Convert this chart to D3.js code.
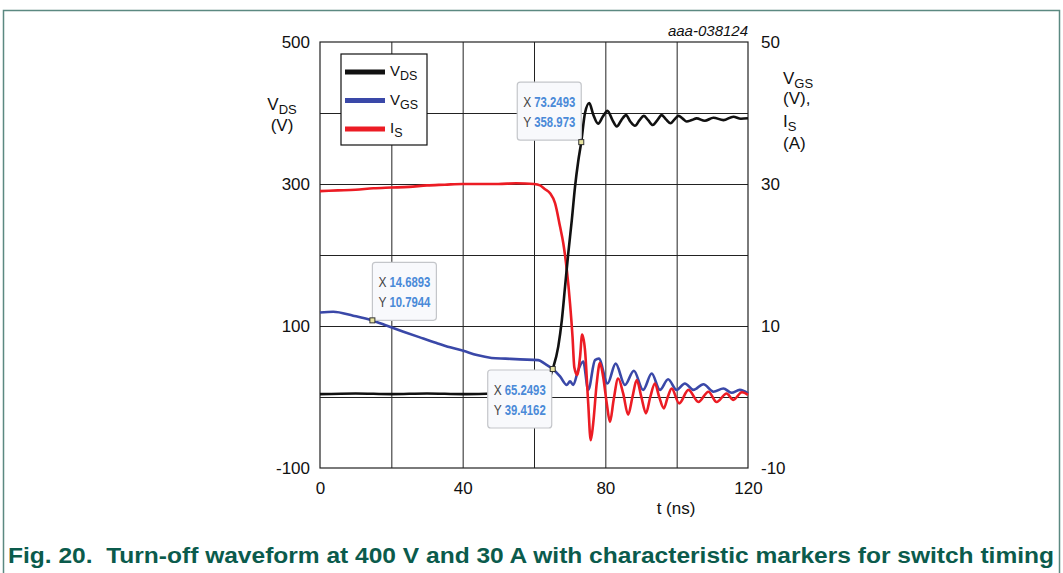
<!DOCTYPE html>
<html lang="en">
<head>
<meta charset="utf-8">
<title>Turn-off waveform</title>
<style>
body{
  margin: 0;
  background: #fff;
}
svg text{
  font-family: "Liberation Sans", Arial, sans-serif;
  fill: #111;
}
.tick text{
  font-size: 17px;
}
</style>
</head>
<body>
<div id="chart"></div>
<script src="https://cdn.jsdelivr.net/npm/d3@7"></script>
<script>
// values: [t (ns), value]
var vdsData = [[0,4],[10,5],[20,4],[30,5],[40,4],[50,5],[60,6],[62.5,11],[64,22],[65.25,39.4],
  [66.8,71],[67.8,108],[68.7,155],[69.6,202],[70.6,249],[71.5,296],[72.4,332],[73.25,359],
  [74.3,400],[75.5,414],[76.6,398],[78,385],[79.3,395],[80.6,403],[82,390],[83.2,381],[84.5,390],
  [85.8,397],[87,388],[88.3,382],[89.6,390],[90.8,396],[92,390],[93.3,383],[94.6,390],[95.8,397],
  [97,391],[98.3,385.5],[99.4,391],[100.5,396],[101.7,392],[102.8,388],[104.2,390],[105.6,392.5],
  [107.9,389],[110.3,393.4],[113.1,390],[115.9,394.8],[118,392],[120,392.5]];
var vgsData = [[0,11.9],[3.7,12.0],[9.3,11.45],[14.69,10.79],[19,10.0],[23.4,9.2],[28,8.4],[32.7,7.6],
  [36.5,7.0],[40.2,6.5],[44,5.9],[48.1,5.5],[52,5.4],[56.1,5.3],[61.2,5.2],[63,4.7],[65.25,3.94],
  [67.3,2.9],[69.2,1.7],[70.1,2.2],[71,1.7],[72.4,3.8],[73.8,5.0],[75.2,1.0],[77.1,5.2],[78.2,5.4],
  [80.6,1.9],[82.9,4.7],[85.5,1.7],[88,3.7],[90.6,1.0],[93,3.3],[95.3,1.0],[97.6,2.5],[100,1.0],
  [102.3,1.9],[104.7,1.0],[107.5,1.8],[110.3,0.75],[113.1,1.2],[115.4,0.6],[117.7,1.0],[120,0.5]];
var isData = [[0,29.0],[5,29.1],[10,29.2],[15,29.4],[20,29.5],[25,29.6],[30,29.8],[35,29.9],[40,30.0],
  [45,30.0],[50,30.0],[55,30.1],[60,30.0],[61.7,29.8],[63,29.3],[64.5,28.7],[65.9,27.3],[67.3,24],
  [68.2,21.7],[69.2,17.9],[70.1,13.2],[70.8,8.5],[71.3,4.2],[72.1,3.1],[72.9,5.6],[73.5,8.8],[74.3,6.6],
  [75.2,-0.9],[75.9,-6.1],[76.6,-3.7],[77.6,2.0],[78.5,4.8],[79.4,2.8],[80.4,-0.9],[81.3,-3.5],
  [82.3,-0.5],[83.6,2.6],[85,0.5],[86.4,-2.5],[87.6,0],[88.8,2.4],[90.1,0],[91.4,-2.3],[92.6,0],
  [93.9,1.9],[95.1,0],[96.4,-1.6],[97.5,0],[98.6,1.2],[100.7,-0.9],[103.3,1.0],[106.1,-0.7],
  [108.9,0.75],[111.2,-0.7],[114,0.5],[115.9,-0.4],[118.3,0.66],[120,0.3]];

var xTicks = [0, 40, 80, 120];
var xGrid = [20, 40, 60, 80, 100];
var leftTicks = [-100, 100, 300, 500];
var leftGrid = [0, 100, 200, 300, 400];
var rightTicks = [-10, 10, 30, 50];

// markers: t, value, axis
var markerT = [14.6893, 65.2493, 73.2493];
var markerV = [10.7944, 39.4162, 358.973];
var markerAxis = ["right", "left", "left"];

var legendNames = ["DS", "GS", "S"];
var legendColors = ["#111111", "#3a48a8", "#ec1c24"];

var svg = d3.select("#chart").append("svg")
  .attr("width", 1063)
  .attr("height", 573);

var x = d3.scaleLinear().domain([0, 120]).range([320, 748]);
var yL = d3.scaleLinear().domain([-100, 500]).range([468, 42]);
var yR = d3.scaleLinear().domain([-10, 50]).range([468, 42]);
var plain = d => String(d);

// figure frame
svg.append("rect")
  .attr("x", 3.5).attr("y", 10.5)
  .attr("width", 1056).attr("height", 580)
  .attr("fill", "none")
  .attr("stroke", "#5b8981")
  .attr("stroke-width", 1.5);

// grid
svg.append("g")
  .attr("transform", "translate(0,468)")
  .call(d3.axisBottom(x).tickValues(xGrid).tickSize(-426).tickFormat(""))
  .call(g => g.select(".domain").remove())
  .selectAll("line").attr("stroke", "#222");
svg.append("g")
  .attr("transform", "translate(320,0)")
  .call(d3.axisLeft(yL).tickValues(leftGrid).tickSize(-428).tickFormat(""))
  .call(g => g.select(".domain").remove())
  .selectAll("line").attr("stroke", "#222");

svg.append("rect")
  .attr("x", 320).attr("y", 42)
  .attr("width", 428).attr("height", 426)
  .attr("fill", "none")
  .attr("stroke", "#222")
  .attr("stroke-width", 1.2);

// axes labels
svg.append("g")
  .attr("transform", "translate(320,0)")
  .call(d3.axisLeft(yL).tickValues(leftTicks).tickFormat(plain).tickSize(0).tickPadding(10))
  .call(g => g.select(".domain").remove());
svg.append("g")
  .attr("transform", "translate(748,0)")
  .call(d3.axisRight(yR).tickValues(rightTicks).tickFormat(plain).tickSize(0).tickPadding(13))
  .call(g => g.select(".domain").remove());
svg.append("g")
  .attr("transform", "translate(0,468)")
  .call(d3.axisBottom(x).tickValues(xTicks).tickFormat(plain).tickSize(0).tickPadding(14))
  .call(g => g.select(".domain").remove());
svg.selectAll(".tick text").attr("fill", "#111").style("font-family", "'Liberation Sans', Arial, sans-serif");

// axis titles
var lt = svg.append("text").attr("x", 282).attr("y", 110).attr("text-anchor", "middle").style("font-size", "17px");
lt.append("tspan").text("V");
lt.append("tspan").attr("dy", 4).style("font-size", "13px").text("DS");
svg.append("text").attr("x", 282).attr("y", 131).attr("text-anchor", "middle").style("font-size", "17px").text("(V)");

var rt = svg.append("text").attr("x", 783).attr("y", 84).style("font-size", "17px");
rt.append("tspan").text("V");
rt.append("tspan").attr("dy", 4).style("font-size", "13px").text("GS");
svg.append("text").attr("x", 783).attr("y", 104).style("font-size", "17px").text("(V),");
var rt2 = svg.append("text").attr("x", 783).attr("y", 127).style("font-size", "17px");
rt2.append("tspan").text("I");
rt2.append("tspan").attr("dy", 4).style("font-size", "13px").text("S");
svg.append("text").attr("x", 783).attr("y", 149).style("font-size", "17px").text("(A)");

svg.append("text").attr("x", 676).attr("y", 514).attr("text-anchor", "middle").style("font-size", "17px").text("t (ns)");

svg.append("text").attr("x", 748).attr("y", 36).attr("text-anchor", "end")
  .style("font-size", "15px").style("font-style", "italic").text("aaa-038124");

// traces
var lineL = d3.line().x(d => x(d[0])).y(d => yL(d[1])).curve(d3.curveMonotoneX);
var lineR = d3.line().x(d => x(d[0])).y(d => yR(d[1])).curve(d3.curveMonotoneX);

svg.append("path").datum(vgsData).attr("d", lineR)
  .attr("fill", "none").attr("stroke", legendColors[1]).attr("stroke-width", 2.6);
svg.append("path").datum(isData).attr("d", lineR)
  .attr("fill", "none").attr("stroke", legendColors[2]).attr("stroke-width", 2.6);
svg.append("path").datum(vdsData).attr("d", lineL)
  .attr("fill", "none").attr("stroke", legendColors[0]).attr("stroke-width", 2.6);

// legend
var leg = svg.append("g").attr("transform", "translate(341,54)");
leg.append("rect").attr("width", 86).attr("height", 91)
  .attr("fill", "#fff").attr("stroke", "#111").attr("stroke-width", 1.2);
legendNames.forEach(function(n, i) {
  var yy = 18 + i * 28.5;
  leg.append("line").attr("x1", 4).attr("x2", 44).attr("y1", yy).attr("y2", yy)
    .attr("stroke", legendColors[i]).attr("stroke-width", 5);
  var t = leg.append("text").attr("x", 49).attr("y", yy + 4).style("font-size", "15px");
  t.append("tspan").text(i == 2 ? "I" : "V");
  t.append("tspan").attr("dy", 4).style("font-size", "12.5px").text(n);
});

// marker callouts
var boxOffset = [[0, -58], [-65, 1], [-64, -60]];
markerT.forEach(function(t, i) {
  var px = x(t);
  var py = markerAxis[i] == "right" ? yR(markerV[i]) : yL(markerV[i]);
  var bx = px + boxOffset[i][0], by = py + boxOffset[i][1];
  var g = svg.append("g");
  g.append("rect").attr("x", bx).attr("y", by).attr("width", 64).attr("height", 58)
    .attr("rx", 3).attr("fill", "#f8f9fc").attr("stroke", "#c4c6ca").attr("stroke-width", 1.2);
  var rows = [["X", t.toFixed(4)], ["Y", markerV[i].toFixed(markerV[i] > 100 ? 3 : 4)]];
  rows.forEach(function(r, j) {
    g.append("text").attr("x", bx + 6).attr("y", by + 25 + j * 20)
      .attr("textLength", 8).attr("lengthAdjust", "spacingAndGlyphs")
      .style("font-size", "15px").style("fill", "#444").text(r[0]);
    g.append("text").attr("x", bx + 17).attr("y", by + 25 + j * 20)
      .attr("textLength", 41).attr("lengthAdjust", "spacingAndGlyphs")
      .style("font-size", "15px").style("font-weight", "bold").style("fill", "#4a8ad8").text(r[1]);
  });
  g.append("rect").attr("x", px - 2.5).attr("y", py - 2.5).attr("width", 5).attr("height", 5)
    .attr("fill", "#e8e4a0").attr("stroke", "#333").attr("stroke-width", 1);
});

// caption
svg.append("text").attr("x", 8).attr("y", 563)
  .attr("textLength", 1046).attr("lengthAdjust", "spacingAndGlyphs")
  .style("white-space", "pre")
  .style("font-size", "22px").style("font-weight", "bold").style("fill", "#0b5b4c")
  .text("Fig. 20.  Turn-off waveform at 400 V and 30 A with characteristic markers for switch timing");
</script>
</body>
</html>
